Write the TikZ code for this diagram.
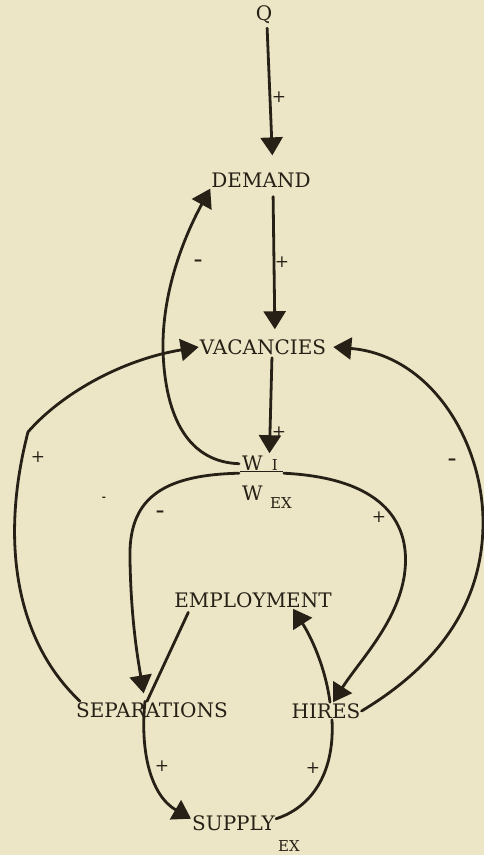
\documentclass[tikz,border=0pt]{standalone}
\usepackage{fontspec}
\setmainfont{DejaVu Serif}
\usetikzlibrary{arrows.meta,positioning}
\definecolor{paper}{RGB}{236,230,198}
\definecolor{ink}{RGB}{38,32,22}

\begin{document}
\begin{tikzpicture}[x=1pt,y=-1pt,
  var/.style={inner sep=1pt,text=ink,font=\fontsize{20}{24}\selectfont},
  sub/.style={inner sep=0pt,text=ink,font=\fontsize{15}{17}\selectfont},
  sign/.style={inner sep=0pt,text=ink,font=\fontsize{17}{19}\selectfont},
  link/.style={draw=ink,line width=2.8pt,line cap=round},
  flow/.style={link,-{Triangle[length=18pt,width=22pt]}}]

  % Hintergrund
  \useasboundingbox (0,0) rectangle (484,855);
  \fill[paper] (0,0) rectangle (484,855);

  % Variablen
  \node[var] (q) at (264,15) {Q};
  \node[var] (demand) at (261,180) {DEMAND};
  \node[var] (vacancies) at (263,347) {VACANCIES};
  \node[var,anchor=base west] (wi) at (239,470)
    {\underline{\hspace{2pt}W\hspace{9pt}{\fontsize{15}{17}\selectfont I}\hspace{5pt}}};
  \node[var,anchor=base west] (wex) at (241,500) {W};
  \node[sub,anchor=base west] (wexsub) at (270,508) {EX};
  \node[var] (employment) at (253,600) {EMPLOYMENT};
  \node[var] (separations) at (152,710) {SEPARATIONS};
  \node[var] (hires) at (326,711) {HIRES};
  \node[var,anchor=base west] (supply) at (191,830) {SUPPLY};
  \node[sub,anchor=base west] (supplyex) at (278,851) {EX};

  % gerade Pfeile
  \draw[flow,shorten <=3pt,shorten >=16pt] ([xshift=3pt]q.south) -- ([xshift=12pt]demand.north);
  \draw[flow,shorten <=8pt,shorten >=9pt] ([xshift=12pt]demand.south) -- ([xshift=12pt]vacancies.north);
  \draw[flow,shorten <=2pt,shorten >=1pt] ([xshift=9pt]vacancies.south) -- ([xshift=8pt]wi.north);

  % W -> DEMAND
  \draw[flow] (wi.west) .. controls (190,462) and (165,420) .. (163,350)
    .. controls (162,290) and (185,235) .. (demand.south west);
  % SEPARATIONS -> VACANCIES
  \draw[flow] ([xshift=5pt]separations.north west) .. controls (15,640) and (0,540) .. (28,432)
    .. controls (60,395) and (120,360) .. (vacancies.west);
  % W -> SEPARATIONS
  \draw[flow,shorten >=8pt] (wi.south west) .. controls (160,475) and (128,500) .. (130,560)
    .. controls (131,620) and (138,660) .. ([xshift=-7pt]separations.north);
  % EMPLOYMENT -- SEPARATIONS
  \draw[link,shorten <=4pt] ([xshift=-63pt]employment.south) -- ([xshift=-5pt]separations.north);
  % SEPARATIONS -> SUPPLY
  \draw[flow] ([xshift=-7pt]separations.north) .. controls (140,750) and (150,795) .. ([yshift=4pt]supply.west);
  % HIRES -> EMPLOYMENT
  \draw[flow] ([xshift=4pt]hires.north) .. controls (325,665) and (310,635) .. ([xshift=40pt]employment.south);
  % W -> HIRES
  \draw[flow] (wi.south east) .. controls (380,478) and (410,520) .. (405,570)
    .. controls (400,620) and (360,660) .. ([xshift=7pt]hires.north);
  % HIRES -> VACANCIES
  \draw[flow] (hires.east) .. controls (430,670) and (484,610) .. (483,520)
    .. controls (482,440) and (430,355) .. ([xshift=6pt]vacancies.east);
  % HIRES -- SUPPLY
  \draw[link] ([xshift=6pt]hires.south) .. controls (335,775) and (310,808) .. ([yshift=4pt]supply.east);

  % Vorzeichen
  \node[sign] at (279,97) {+};
  \node[sign] at (282,262) {+};
  \node[sign] at (279,432) {+};
  \node[sign] at (198,263) {\textbf{\textendash}};
  \node[sign] at (38,457) {+};
  \node[sign,font=\fontsize{10}{11}\selectfont] at (104,499) {\textbf{-}};
  \node[sign] at (160,514) {\textbf{\textendash}};
  \node[sign] at (379,517) {+};
  \node[sign] at (452,462) {\textbf{\textendash}};
  \node[sign] at (162,766) {+};
  \node[sign] at (313,768) {+};
\end{tikzpicture}
\end{document}
